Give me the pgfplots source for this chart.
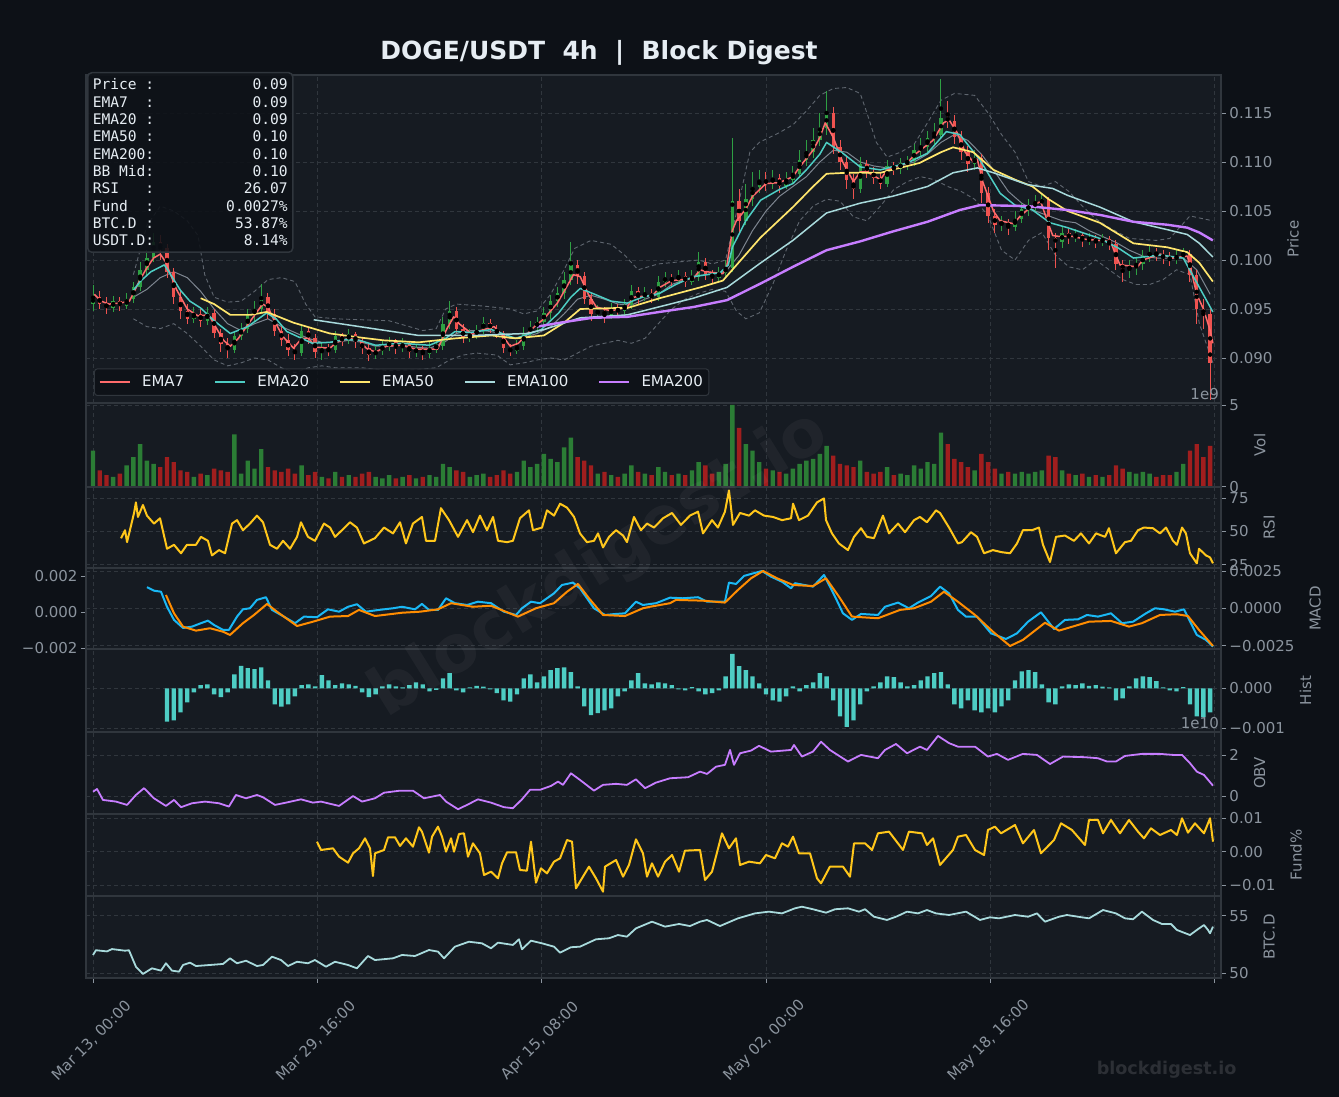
\documentclass[border=0pt]{standalone}
\usepackage{pgfplots}
\pgfplotsset{compat=1.18}
\usepackage{pgfplotstable}
\usepackage{fontspec}
\setmainfont{DejaVu Sans}
\newfontfamily\monofont{DejaVu Sans Mono}
\definecolor{figbg}{HTML}{0D1117}
\definecolor{panelbg}{HTML}{161B22}
\definecolor{gridc}{HTML}{30363D}
\definecolor{tickc}{HTML}{8B949E}
\definecolor{titlec}{HTML}{E6EDF3}
\definecolor{upc}{HTML}{2EA043}
\definecolor{dnc}{HTML}{EF5350}
\definecolor{volup}{HTML}{2B7D35}
\definecolor{voldn}{HTML}{A01E1E}
\definecolor{emaA}{HTML}{FF6B6B}
\definecolor{emaB}{HTML}{4ECDC4}
\definecolor{emaC}{HTML}{FFE66D}
\definecolor{emaD}{HTML}{A8DADC}
\definecolor{emaE}{HTML}{C77DFF}
\definecolor{bbc}{HTML}{5F666F}
\definecolor{bbmid}{HTML}{7D8590}
\definecolor{rsic}{HTML}{FFC61A}
\definecolor{macdc}{HTML}{1AB8F5}
\definecolor{sigc}{HTML}{FF8C00}
\definecolor{histc}{HTML}{4ECDC4}
\definecolor{obvc}{HTML}{C77DFF}
\definecolor{fundc}{HTML}{FFC61A}
\definecolor{btcc}{HTML}{A8DADC}
\newcommand\tk{\fontsize{15}{18}\selectfont}
\pgfplotsset{
  panel/.style={
    scale only axis, width=1135pt,
    xmin=-0.52, xmax=83.8,
    axis background/.style={fill=panelbg},
    axis line style={draw=gridc, line width=1.2pt},
    xmajorgrids, ymajorgrids,
    major grid style={draw=gridc, line width=0.7pt, dash pattern=on 4pt off 3pt},
    xtick={0,16.6667,33.3333,50,66.6667,83.3333},
    xticklabels={},
    x tick style={draw=none},
    ytick pos=right, yticklabel pos=right,
    y tick style={draw=tickc, line width=0.8pt},
    tick align=outside, major tick length=5pt,
    ticklabel style={font=\tk, text=tickc},
    ylabel style={font=\tk, text=tickc},
    ylabel shift=8pt,
    scaled ticks=false,
  },
}
\pgfplotstableread{
x o h l c v
0.0 0.0955 0.0975 0.0948 0.0962 2.2
0.5 0.0962 0.0968 0.0950 0.0955 1.0
1.0 0.0955 0.0962 0.0945 0.0951 0.7
1.5 0.0951 0.0963 0.0947 0.0958 0.6
2.0 0.0958 0.0962 0.0948 0.0953 0.8
2.5 0.0953 0.0966 0.0950 0.0960 1.3
3.0 0.0960 0.0978 0.0956 0.0972 1.8
3.5 0.0972 0.0998 0.0968 0.0990 2.6
4.0 0.0990 0.1010 0.0985 0.1002 1.6
4.5 0.1002 0.1028 0.0998 0.1018 1.4
5.0 0.1018 0.1025 0.1000 0.1012 1.2
5.5 0.1012 0.1016 0.0982 0.0988 1.8
6.0 0.0988 0.0992 0.0955 0.0962 1.5
6.5 0.0962 0.0968 0.0940 0.0948 1.0
7.0 0.0948 0.0955 0.0935 0.0940 0.9
7.5 0.0940 0.0952 0.0936 0.0945 0.6
8.0 0.0945 0.0950 0.0932 0.0938 0.8
8.5 0.0938 0.0952 0.0934 0.0946 0.7
9.0 0.0946 0.0950 0.0920 0.0925 1.1
9.5 0.0925 0.0930 0.0906 0.0914 1.0
10.0 0.0914 0.0920 0.0900 0.0908 0.9
10.5 0.0908 0.0928 0.0905 0.0922 3.2
11.0 0.0922 0.0936 0.0918 0.0930 0.8
11.5 0.0930 0.0950 0.0926 0.0944 1.6
12.0 0.0944 0.0958 0.0938 0.0950 1.1
12.5 0.0950 0.0976 0.0946 0.0962 2.3
13.0 0.0962 0.0966 0.0940 0.0945 1.2
13.5 0.0945 0.0950 0.0922 0.0928 1.0
14.0 0.0928 0.0934 0.0912 0.0918 0.9
14.5 0.0918 0.0924 0.0902 0.0908 1.1
15.0 0.0908 0.0914 0.0898 0.0905 0.8
15.5 0.0905 0.0934 0.0902 0.0928 1.3
16.0 0.0928 0.0932 0.0914 0.0920 0.7
16.5 0.0920 0.0924 0.0900 0.0906 0.9
17.0 0.0906 0.0916 0.0898 0.0910 0.6
17.5 0.0910 0.0914 0.0902 0.0908 0.5
18.0 0.0908 0.0928 0.0905 0.0922 0.9
18.5 0.0922 0.0926 0.0912 0.0918 0.6
19.0 0.0918 0.0930 0.0914 0.0924 0.7
19.5 0.0924 0.0927 0.0910 0.0916 0.6
20.0 0.0916 0.0920 0.0904 0.0910 0.8
20.5 0.0910 0.0914 0.0897 0.0903 0.9
21.0 0.0903 0.0912 0.0899 0.0907 0.6
21.5 0.0907 0.0918 0.0903 0.0912 0.5
22.0 0.0912 0.0921 0.0907 0.0916 0.7
22.5 0.0916 0.0919 0.0904 0.0910 0.5
23.0 0.0910 0.0920 0.0906 0.0914 0.6
23.5 0.0914 0.0917 0.0900 0.0906 0.7
24.0 0.0906 0.0914 0.0901 0.0909 0.5
24.5 0.0909 0.0912 0.0898 0.0904 0.6
25.0 0.0904 0.0916 0.0900 0.0910 0.7
25.5 0.0910 0.0918 0.0905 0.0912 0.6
26.0 0.0912 0.0942 0.0908 0.0935 1.4
26.5 0.0935 0.0958 0.0930 0.0948 1.2
27.0 0.0948 0.0952 0.0925 0.0930 1.0
27.5 0.0930 0.0935 0.0915 0.0920 0.9
28.0 0.0920 0.0930 0.0916 0.0924 0.6
28.5 0.0924 0.0934 0.0919 0.0928 0.7
29.0 0.0928 0.0942 0.0924 0.0936 0.8
29.5 0.0936 0.0940 0.0925 0.0930 0.6
30.0 0.0930 0.0934 0.0920 0.0925 0.7
30.5 0.0925 0.0928 0.0905 0.0910 1.0
31.0 0.0910 0.0914 0.0902 0.0907 0.8
31.5 0.0907 0.0918 0.0904 0.0912 0.9
32.0 0.0912 0.0932 0.0908 0.0926 1.6
32.5 0.0926 0.0938 0.0921 0.0932 1.2
33.0 0.0932 0.0942 0.0926 0.0937 1.4
33.5 0.0937 0.0952 0.0932 0.0946 2.0
34.0 0.0946 0.0964 0.0940 0.0958 1.7
34.5 0.0958 0.0972 0.0952 0.0966 1.5
35.0 0.0966 0.0988 0.0960 0.0980 2.4
35.5 0.0980 0.1018 0.0975 0.0995 3.0
36.0 0.0995 0.1000 0.0976 0.0984 1.8
36.5 0.0984 0.0988 0.0955 0.0960 1.6
37.0 0.0960 0.0966 0.0938 0.0945 1.3
37.5 0.0945 0.0954 0.0940 0.0948 0.8
38.0 0.0948 0.0952 0.0936 0.0944 0.9
38.5 0.0944 0.0956 0.0940 0.0950 0.7
39.0 0.0950 0.0955 0.0942 0.0948 0.6
39.5 0.0948 0.0960 0.0944 0.0954 0.8
40.0 0.0954 0.0974 0.0950 0.0968 1.3
40.5 0.0968 0.0972 0.0955 0.0962 0.9
41.0 0.0962 0.0972 0.0958 0.0966 0.8
41.5 0.0966 0.0970 0.0956 0.0962 0.7
42.0 0.0962 0.0984 0.0958 0.0978 1.2
42.5 0.0978 0.0988 0.0972 0.0982 0.9
43.0 0.0982 0.0986 0.0973 0.0979 0.7
43.5 0.0979 0.0990 0.0975 0.0984 0.8
44.0 0.0984 0.0988 0.0972 0.0978 0.7
44.5 0.0978 0.0990 0.0974 0.0983 1.0
45.0 0.0983 0.1008 0.0979 0.0998 1.5
45.5 0.0998 0.1002 0.0980 0.0986 1.3
46.0 0.0986 0.0990 0.0976 0.0982 0.8
46.5 0.0982 0.0993 0.0978 0.0987 0.9
47.0 0.0987 0.1000 0.0982 0.0992 1.4
47.5 0.0992 0.1125 0.0988 0.1060 5.0
48.0 0.1060 0.1072 0.1028 0.1040 3.6
48.5 0.1040 0.1078 0.1036 0.1062 2.6
49.0 0.1062 0.1090 0.1055 0.1075 2.2
49.5 0.1075 0.1092 0.1068 0.1082 1.5
50.0 0.1082 0.1090 0.1070 0.1078 1.1
50.5 0.1078 0.1092 0.1072 0.1084 1.0
51.0 0.1084 0.1088 0.1068 0.1076 0.9
51.5 0.1076 0.1090 0.1072 0.1082 0.8
52.0 0.1082 0.1096 0.1078 0.1088 1.1
52.5 0.1088 0.1112 0.1084 0.1102 1.4
53.0 0.1102 0.1122 0.1096 0.1110 1.6
53.5 0.1110 0.1135 0.1104 0.1122 1.7
54.0 0.1122 0.1150 0.1116 0.1135 2.0
54.5 0.1135 0.1172 0.1128 0.1150 2.5
55.0 0.1150 0.1156 0.1108 0.1115 1.9
55.5 0.1115 0.1122 0.1092 0.1100 1.4
56.0 0.1100 0.1106 0.1072 0.1082 1.3
56.5 0.1082 0.1088 0.1062 0.1072 1.2
57.0 0.1072 0.1105 0.1068 0.1098 1.6
57.5 0.1098 0.1102 0.1084 0.1090 0.9
58.0 0.1090 0.1095 0.1078 0.1084 0.8
58.5 0.1084 0.1090 0.1072 0.1078 0.9
59.0 0.1078 0.1102 0.1075 0.1096 1.2
59.5 0.1096 0.1100 0.1087 0.1093 0.7
60.0 0.1093 0.1104 0.1088 0.1099 0.8
60.5 0.1099 0.1106 0.1092 0.1101 0.7
61.0 0.1101 0.1118 0.1096 0.1112 1.3
61.5 0.1112 0.1124 0.1106 0.1115 1.1
62.0 0.1115 0.1132 0.1110 0.1124 1.5
62.5 0.1124 0.1140 0.1118 0.1128 1.4
63.0 0.1128 0.1185 0.1124 0.1145 3.3
63.5 0.1145 0.1162 0.1135 0.1142 2.6
64.0 0.1142 0.1148 0.1118 0.1126 1.7
64.5 0.1126 0.1132 0.1102 0.1110 1.5
65.0 0.1110 0.1116 0.1090 0.1098 1.2
65.5 0.1098 0.1112 0.1092 0.1104 1.0
66.0 0.1104 0.1108 0.1058 0.1068 2.0
66.5 0.1068 0.1074 0.1038 0.1045 1.5
67.0 0.1045 0.1052 0.1028 0.1036 1.1
67.5 0.1036 0.1045 0.1030 0.1038 0.8
68.0 0.1038 0.1042 0.1026 0.1034 0.9
68.5 0.1034 0.1050 0.1030 0.1042 0.8
69.0 0.1042 0.1058 0.1038 0.1052 0.9
69.5 0.1052 0.1062 0.1045 0.1055 0.8
70.0 0.1055 0.1066 0.1050 0.1058 0.9
70.5 0.1058 0.1068 0.1052 0.1062 1.0
71.0 0.1062 0.1064 0.1010 0.1022 1.9
71.5 0.1022 0.1028 0.0992 0.1018 1.8
72.0 0.1018 0.1034 0.1012 0.1028 1.0
72.5 0.1028 0.1032 0.1016 0.1022 0.8
73.0 0.1022 0.1032 0.1018 0.1026 0.7
73.5 0.1026 0.1029 0.1013 0.1019 0.8
74.0 0.1019 0.1028 0.1015 0.1022 0.6
74.5 0.1022 0.1026 0.1012 0.1018 0.7
75.0 0.1018 0.1027 0.1014 0.1021 0.6
75.5 0.1021 0.1024 0.1010 0.1016 0.7
76.0 0.1016 0.1020 0.0990 0.0996 1.3
76.5 0.0996 0.1000 0.0978 0.0990 1.1
77.0 0.0990 0.1000 0.0982 0.0994 0.9
77.5 0.0994 0.1002 0.0985 0.0996 0.8
78.0 0.0996 0.1010 0.0990 0.1004 0.9
78.5 0.1004 0.1014 0.0998 0.1008 0.8
79.0 0.1008 0.1012 0.0999 0.1005 0.6
79.5 0.1005 0.1010 0.0996 0.1003 0.7
80.0 0.1003 0.1008 0.0994 0.1000 0.7
80.5 0.1000 0.1010 0.0996 0.1004 0.9
81.0 0.1004 0.1012 0.1000 0.1006 1.4
81.5 0.1006 0.1010 0.0978 0.0985 2.2
82.0 0.0985 0.0990 0.0935 0.0950 2.6
82.5 0.0950 0.0960 0.0930 0.0945 1.8
83.0 0.0945 0.0950 0.0857 0.0895 2.5
}\candles
\pgfplotstableread{
x h
5.5 -0.00083
6.0 -0.00080
6.5 -0.00060
7.0 -0.00035
7.5 -0.00010
8.0 0.00008
8.5 0.00010
9.0 -0.00015
9.5 -0.00022
10.0 -0.00010
10.5 0.00035
11.0 0.00056
11.5 0.00050
12.0 0.00048
12.5 0.00052
13.0 0.00020
13.5 -0.00040
14.0 -0.00046
14.5 -0.00040
15.0 -0.00020
15.5 0.00008
16.0 0.00010
16.5 0.00005
17.0 0.00033
17.5 0.00020
18.0 0.00008
18.5 0.00012
19.0 0.00010
19.5 0.00006
20.0 -0.00010
20.5 -0.00022
21.0 -0.00015
21.5 0.00005
22.0 0.00010
22.5 0.00005
23.0 0.00002
23.5 0.00008
24.0 0.00015
24.5 0.00010
25.0 -0.00008
25.5 -0.00004
26.0 0.00025
26.5 0.00038
27.0 -0.00005
27.5 -0.00010
28.0 0.00002
28.5 0.00006
29.0 0.00004
29.5 -0.00003
30.0 -0.00012
30.5 -0.00030
31.0 -0.00033
31.5 -0.00015
32.0 0.00025
32.5 0.00035
33.0 0.00015
33.5 0.00030
34.0 0.00045
34.5 0.00050
35.0 0.00052
35.5 0.00040
36.0 0.00005
36.5 -0.00045
37.0 -0.00067
37.5 -0.00062
38.0 -0.00055
38.5 -0.00050
39.0 -0.00020
39.5 -0.00008
40.0 0.00020
40.5 0.00038
41.0 0.00012
41.5 0.00010
42.0 0.00015
42.5 0.00012
43.0 0.00008
43.5 -0.00003
44.0 -0.00005
44.5 0.00003
45.0 -0.00008
45.5 -0.00015
46.0 -0.00012
46.5 -0.00005
47.0 0.00030
47.5 0.00086
48.0 0.00055
48.5 0.00045
49.0 0.00030
49.5 0.00012
50.0 -0.00015
50.5 -0.00030
51.0 -0.00033
51.5 -0.00020
52.0 0.00005
52.5 -0.00008
53.0 0.00008
53.5 0.00015
54.0 0.00038
54.5 0.00030
55.0 -0.00030
55.5 -0.00070
56.0 -0.00096
56.5 -0.00080
57.0 -0.00040
57.5 -0.00008
58.0 0.00005
58.5 0.00015
59.0 0.00030
59.5 0.00028
60.0 0.00015
60.5 0.00005
61.0 0.00008
61.5 0.00020
62.0 0.00030
62.5 0.00038
63.0 0.00040
63.5 0.00010
64.0 -0.00040
64.5 -0.00050
65.0 -0.00030
65.5 -0.00055
66.0 -0.00060
66.5 -0.00050
67.0 -0.00060
67.5 -0.00045
68.0 -0.00030
68.5 0.00020
69.0 0.00042
69.5 0.00045
70.0 0.00040
70.5 0.00010
71.0 -0.00035
71.5 -0.00040
72.0 0.00005
72.5 0.00010
73.0 0.00008
73.5 0.00012
74.0 0.00006
74.5 0.00008
75.0 0.00004
75.5 0.00002
76.0 -0.00030
76.5 -0.00025
77.0 0.00005
77.5 0.00025
78.0 0.00030
78.5 0.00028
79.0 0.00018
79.5 0.00002
80.0 -0.00005
80.5 -0.00008
81.0 0.00003
81.5 -0.00040
82.0 -0.00070
82.5 -0.00072
83.0 -0.00060
}\histtab
\begin{document}
\begin{tikzpicture}
\fill[figbg] (0,0) rectangle (1339pt,1097pt);
\useasboundingbox (0,0) rectangle (1339pt,1097pt);

% ---------------- PRICE ----------------
\begin{axis}[panel, at={(86pt,1022pt)}, anchor=north west, height=328pt,
  ymin=0.085408, ymax=0.11888,
  ytick={0.090,0.095,0.100,0.105,0.110,0.115},
  yticklabels={0.090,0.095,0.100,0.105,0.110,0.115},
  ylabel={Price},
  legend style={at={(0.007,0.0213)}, anchor=south west, fill=figbg, fill opacity=0.85, draw opacity=1, text opacity=1,
    draw=gridc, line width=1pt, rounded corners=3pt, text=titlec, font=\fontsize{15}{17}\selectfont,
    inner xsep=4pt, inner ysep=5pt},
  legend columns=5,
  legend cell align=left,
  legend image code/.code={\draw[#1, line width=2.6pt] (0pt,0pt) -- (30pt,0pt);},
  /tikz/every odd column/.append style={column sep=9pt},
  /tikz/every even column/.append style={column sep=27.5pt},
]
\addplot[forget plot, bbc, line width=0.9pt, dash pattern=on 4pt off 3pt] coordinates {
(3,0.0985)(3.5,0.1010)(4,0.1035)(5,0.1055)(6,0.1050)(7,0.1040)(7.8,0.1025)(8.3,0.0985)(9,0.0962)(10,0.0957)(11,0.0958)(12,0.0968)(13,0.0980)(14,0.0982)(15,0.0978)(15.8,0.0955)(16.5,0.0942)(18,0.0940)(20,0.0939)(22,0.0938)(23.5,0.0932)(24.5,0.0928)(25.5,0.0930)(26.2,0.0950)(27,0.0955)(29,0.0953)(31,0.0950)(32,0.0945)(33,0.0948)(34,0.0965)(35,0.0990)(35.8,0.1012)(37,0.1020)(38.5,0.1016)(39.5,0.1005)(40.5,0.0990)(42,0.0996)(43.5,0.0998)(45,0.1000)(46,0.0996)(47,0.1000)(48,0.1060)(48.8,0.1110)(49.5,0.1120)(51,0.1130)(52,0.1138)(53,0.1152)(54,0.1168)(55,0.1175)(56,0.1176)(57,0.1170)(57.5,0.1150)(58.2,0.1120)(59,0.1105)(60,0.1110)(61,0.1118)(62,0.1140)(63,0.1163)(64,0.1170)(65.5,0.1168)(66.5,0.1150)(67.5,0.1128)(68.5,0.1110)(69.5,0.1080)(70.5,0.1075)(71.5,0.1080)(72.5,0.1070)(73.5,0.1055)(74.5,0.1042)(75.5,0.1033)(77,0.1022)(79,0.1020)(80,0.1022)(81.5,0.1045)(82.5,0.1042)(83.2,0.1040)};
\addplot[forget plot, bbc, line width=0.9pt, dash pattern=on 4pt off 3pt] coordinates {
(3,0.0940)(4,0.0932)(5,0.0930)(6,0.0935)(7,0.0925)(8,0.0912)(9,0.0898)(10,0.0892)(11,0.0895)(12,0.0900)(13,0.0898)(14,0.0890)(15,0.0885)(16,0.0890)(17,0.0892)(18,0.0890)(20,0.0890)(22,0.0887)(24,0.0888)(25.5,0.0890)(26.5,0.0898)(27.5,0.0903)(28.5,0.0905)(30,0.0903)(31,0.0893)(32,0.0895)(33,0.0898)(34,0.0900)(35,0.0898)(36,0.0905)(37,0.0912)(38,0.0915)(39,0.0918)(40,0.0915)(41,0.0920)(42,0.0935)(43,0.0950)(44,0.0960)(45,0.0966)(46,0.0970)(47,0.0968)(47.8,0.0948)(48.5,0.0940)(49.5,0.0946)(50.5,0.0975)(51.5,0.1010)(52.5,0.1040)(53.5,0.1055)(54.5,0.1062)(55.5,0.1060)(56.5,0.1044)(57.5,0.1040)(58.5,0.1055)(59.5,0.1072)(60.5,0.1080)(61.5,0.1085)(62.5,0.1082)(63.5,0.1075)(64.5,0.1070)(65.5,0.1062)(66.5,0.1045)(67.5,0.1010)(68.5,0.1000)(69.5,0.1020)(70.5,0.1028)(71.5,0.1005)(72.5,0.0993)(73.5,0.0990)(74.5,0.1000)(75.5,0.0990)(76.5,0.0980)(77.5,0.0975)(78.5,0.0975)(79.5,0.0980)(80.5,0.0990)(81.5,0.0985)(82.2,0.0935)(83.2,0.0895)};
\addplot[forget plot, bbmid, line width=1pt] coordinates {
(3,0.0962)(4,0.0970)(5,0.0982)(6,0.0988)(7,0.0982)(8,0.0968)(9,0.0950)(10,0.0935)(11,0.0928)(12,0.0935)(13,0.0940)(14,0.0932)(15,0.0926)(16,0.0920)(17,0.0916)(18,0.0916)(19,0.0918)(20,0.0916)(21,0.0912)(22,0.0912)(23,0.0913)(24,0.0911)(25,0.0910)(26,0.0915)(27,0.0925)(28,0.0928)(29,0.0928)(30,0.0926)(31,0.0920)(32,0.0921)(33,0.0925)(34,0.0932)(35,0.0945)(36,0.0960)(37,0.0964)(38,0.0960)(39,0.0955)(40,0.0954)(41,0.0960)(42,0.0965)(43,0.0975)(44,0.0980)(45,0.0984)(46,0.0986)(47,0.0988)(48,0.1005)(49,0.1030)(50,0.1050)(51,0.1065)(52,0.1075)(53,0.1085)(54,0.1100)(55,0.1112)(56,0.1110)(57,0.1100)(58,0.1096)(59,0.1094)(60,0.1096)(61,0.1100)(62,0.1108)(63,0.1120)(64,0.1128)(65,0.1122)(66,0.1108)(67,0.1090)(68,0.1070)(69,0.1058)(70,0.1050)(71,0.1045)(72,0.1040)(73,0.1038)(74,0.1030)(75,0.1024)(76,0.1018)(77,0.1010)(78,0.1004)(79,0.1002)(80,0.1002)(81,0.1002)(82,0.0990)(83,0.0965)};
% candles: wicks and bodies
\addplot[forget plot, only marks, mark=none,
  restrict expr to domain={(\thisrow{c}-\thisrow{o})*10000}{0:1000},
  error bars/.cd, y dir=both, y explicit, error mark=none,
  error bar style={draw=upc, line width=1pt}]
  table[x=x, y expr={(\thisrow{h}+\thisrow{l})/2}, y error expr={(\thisrow{h}-\thisrow{l})/2}] {\candles};
\addplot[forget plot, only marks, mark=none,
  restrict expr to domain={(\thisrow{o}-\thisrow{c})*10000}{0.001:1000},
  error bars/.cd, y dir=both, y explicit, error mark=none,
  error bar style={draw=dnc, line width=1pt}]
  table[x=x, y expr={(\thisrow{h}+\thisrow{l})/2}, y error expr={(\thisrow{h}-\thisrow{l})/2}] {\candles};
\addplot[forget plot, only marks, mark=none,
  restrict expr to domain={(\thisrow{c}-\thisrow{o})*10000}{0:1000},
  error bars/.cd, y dir=both, y explicit, error mark=none,
  error bar style={draw=upc, line width=3.4pt}]
  table[x=x, y expr={(\thisrow{o}+\thisrow{c})/2}, y error expr={abs(\thisrow{c}-\thisrow{o})/2}] {\candles};
\addplot[forget plot, only marks, mark=none,
  restrict expr to domain={(\thisrow{o}-\thisrow{c})*10000}{0.001:1000},
  error bars/.cd, y dir=both, y explicit, error mark=none,
  error bar style={draw=dnc, line width=3.4pt}]
  table[x=x, y expr={(\thisrow{o}+\thisrow{c})/2}, y error expr={abs(\thisrow{c}-\thisrow{o})/2}] {\candles};
% EMAs
\addplot[emaA, line width=1.5pt, line join=round] coordinates {
(0.1,0.0965)(0.6,0.0958)(1.2,0.0955)(2.0,0.0956)(2.7,0.0958)(3.0,0.0966)(3.5,0.0980)(4.0,0.0992)(4.5,0.1002)(5.0,0.1006)(5.4,0.0998)(6.2,0.0970)(7.0,0.0950)(7.8,0.0943)(8.6,0.0944)(9.1,0.0932)(9.7,0.0918)(10.2,0.0912)(10.8,0.0920)(11.5,0.0934)(12.6,0.0955)(13.0,0.0952)(13.4,0.0940)(14.1,0.0922)(14.9,0.0910)(15.5,0.0920)(16.0,0.0920)(16.6,0.0911)(17.6,0.0910)(18.1,0.0916)(19.0,0.0920)(19.8,0.0918)(20.3,0.0910)(21.0,0.0906)(21.8,0.0912)(22.9,0.0913)(24.0,0.0909)(25.6,0.0909)(26.3,0.0930)(26.8,0.0942)(27.2,0.0935)(28.2,0.0924)(28.8,0.0928)(29.8,0.0932)(30.3,0.0925)(31.0,0.0912)(31.6,0.0915)(32.8,0.0932)(33.5,0.0940)(34.5,0.0956)(35.0,0.0968)(35.7,0.0985)(36.2,0.0983)(36.8,0.0965)(37.4,0.0952)(38.5,0.0948)(39.7,0.0952)(40.1,0.0962)(41.6,0.0964)(42.1,0.0972)(43.0,0.0979)(44.6,0.0981)(45.1,0.0990)(45.6,0.0988)(46.8,0.0986)(47.1,0.0995)(47.5,0.1030)(47.8,0.1040)(48.5,0.1052)(49.0,0.1065)(50.0,0.1078)(51.0,0.1079)(52.0,0.1085)(52.5,0.1095)(53.5,0.1112)(54.0,0.1125)(54.4,0.1140)(55.0,0.1125)(55.7,0.1100)(56.5,0.1080)(57.0,0.1090)(57.5,0.1090)(58.5,0.1082)(59.0,0.1092)(60.5,0.1099)(61.0,0.1107)(62.4,0.1122)(63.2,0.1140)(63.6,0.1143)(64.2,0.1130)(64.8,0.1110)(65.4,0.1100)(65.7,0.1103)(66.1,0.1080)(66.9,0.1050)(67.4,0.1040)(68.4,0.1037)(68.9,0.1045)(69.5,0.1052)(70.4,0.1060)(70.9,0.1040)(71.3,0.1025)(71.8,0.1024)(72.8,0.1024)(73.8,0.1021)(75.6,0.1019)(75.9,0.1008)(76.3,0.0995)(77.6,0.0993)(78.0,0.1000)(79.3,0.1006)(80.2,0.1002)(81.3,0.1004)(81.5,0.0995)(82.0,0.0965)(82.5,0.0950)(83.0,0.0928)(83.2,0.0915)};
\addlegendentry{EMA7}
\addplot[emaB, line width=1.5pt, line join=round] coordinates {
(3.0,0.0969)(3.5,0.0978)(4.3,0.0988)(5.3,0.0995)(6.0,0.0980)(6.5,0.0969)(7.2,0.0958)(8.0,0.0951)(9,0.0938)(10.2,0.0925)(11.5,0.0932)(12.9,0.0946)(13.6,0.0940)(14.4,0.0927)(15.5,0.0920)(16.3,0.0915)(17.6,0.0916)(18.8,0.0919)(19.8,0.0918)(21.0,0.0913)(22.9,0.0915)(25,0.0913)(26.2,0.0920)(26.9,0.0927)(28,0.0926)(29.6,0.0929)(31.4,0.0920)(32.5,0.0925)(33.3,0.0929)(34.6,0.0946)(35.5,0.0962)(36.2,0.0971)(37.1,0.0966)(38.5,0.0958)(39.7,0.0956)(40.8,0.0962)(42.1,0.0966)(43.3,0.0975)(44.6,0.0983)(46.6,0.0987)(47.2,0.0995)(47.5,0.1013)(48.5,0.1040)(49.6,0.1061)(51,0.1072)(52,0.1078)(53,0.1092)(54,0.1108)(54.5,0.1120)(55.7,0.1109)(57,0.1095)(58.5,0.1092)(60.5,0.1099)(62,0.1109)(63.4,0.1131)(64.4,0.1128)(65.9,0.1102)(67.4,0.1068)(68.5,0.1056)(69.8,0.1051)(71.1,0.1038)(72.4,0.1033)(74.8,0.1022)(76.2,0.1012)(77.3,0.1002)(79.3,0.1005)(81,0.1002)(82.2,0.0972)(83.2,0.0947)};
\addlegendentry{EMA20}
\addplot[emaC, line width=1.7pt, line join=round] coordinates {
(8.0,0.0961)(9,0.0955)(10.2,0.0944)(11.7,0.0944)(12.9,0.0947)(14.9,0.0936)(17.6,0.0925)(19.8,0.0921)(21.6,0.0918)(24.2,0.0916)(26.9,0.0920)(29.6,0.0923)(31.4,0.0920)(33.5,0.0923)(35,0.0936)(36.2,0.0950)(38.9,0.0951)(39.7,0.0951)(42.1,0.0961)(45.1,0.0972)(46.8,0.0979)(47.5,0.0990)(49.6,0.1023)(52,0.1054)(53.5,0.1075)(54.5,0.1088)(56,0.1089)(58.5,0.1089)(61.4,0.1099)(63.0,0.1110)(63.9,0.1115)(65.4,0.1110)(66.9,0.1092)(68.5,0.1082)(69.8,0.1075)(71.0,0.1062)(72.4,0.1050)(74.8,0.1038)(77.3,0.1017)(79.8,0.1013)(81.3,0.1008)(82.2,0.0997)(83.2,0.0978)};
\addlegendentry{EMA50}
\addplot[emaD, line width=1.5pt, line join=round] coordinates {
(16.4,0.0939)(20.3,0.0931)(24.2,0.0923)(28.2,0.0923)(32.2,0.0925)(33.5,0.0929)(36.2,0.0941)(39.7,0.0944)(44.6,0.0961)(47.1,0.0972)(49.6,0.0997)(52,0.1020)(54.5,0.1048)(57,0.1058)(59.4,0.1065)(62,0.1075)(63.9,0.1089)(65.7,0.1094)(66.9,0.1089)(69.4,0.1077)(71.3,0.1073)(72.4,0.1066)(74.8,0.1054)(77.3,0.1039)(79.8,0.1031)(81.3,0.1026)(82.2,0.1017)(83.2,0.1003)};
\addlegendentry{EMA100}
\addplot[emaE, line width=2.4pt, line join=round] coordinates {
(33.0,0.0932)(34.7,0.0936)(37.1,0.0941)(39.7,0.0942)(42.1,0.0947)(44.6,0.0952)(47.1,0.0959)(49.6,0.0976)(52,0.0993)(54.5,0.1010)(57,0.1019)(59.4,0.1029)(62,0.1039)(64.4,0.1051)(65.9,0.1056)(69.4,0.1055)(72.4,0.1051)(74.8,0.1046)(77.3,0.1039)(79.8,0.1036)(81.3,0.1033)(82.2,0.1028)(83.2,0.1020)};
\addlegendentry{EMA200}
\end{axis}

% ---------------- VOL ----------------
\begin{axis}[panel, at={(86pt,694pt)}, anchor=north west, height=84pt,
  ymin=-0.02, ymax=5.12, ytick={0,5}, yticklabels={0,5}, ylabel={Vol}]
\addplot[ybar, bar width=4.4pt, bar shift=0pt, fill=volup, draw=none,
  restrict expr to domain={(\thisrow{c}-\thisrow{o})*10000}{0:1000}] table[x=x, y=v] {\candles};
\addplot[ybar, bar width=4.4pt, bar shift=0pt, fill=voldn, draw=none,
  restrict expr to domain={(\thisrow{o}-\thisrow{c})*10000}{0.001:1000}] table[x=x, y=v] {\candles};
\end{axis}

% ---------------- RSI ----------------
\begin{axis}[panel, at={(86pt,610pt)}, anchor=north west, height=81pt,
  ymin=22.5, ymax=83.6, ytick={25,50,75}, yticklabels={25,50,75}, ylabel={RSI}]
\addplot[rsic, line width=2pt, line join=round] coordinates {
(2.08,44.9)(2.38,51)(2.53,42)(3.05,64)(3.19,72)(3.34,61)(3.71,70)(4.01,62)(4.53,56)(4.98,60)(5.50,37)(6.02,40)(6.54,33.6)(6.98,40)(7.65,40)(8.02,46)(8.54,43)(8.84,32)(9.36,36)(9.81,33.6)(10.33,56)(10.70,58.6)(11.14,51)(11.66,56)(12.18,62)(12.63,57)(13.15,40)(13.67,37)(14.12,43)(14.64,37)(15.16,46)(15.45,57)(15.97,46)(16.49,43)(17.16,56)(17.61,53)(17.98,46)(18.50,51)(19.09,57)(19.61,53)(20.13,41)(20.95,45)(21.62,53)(22.29,48.6)(22.81,57)(23.25,41)(23.77,56)(24.44,61)(24.74,43)(25.41,43)(25.85,67.6)(26.45,58.6)(27.12,46)(27.79,58.6)(28.23,49.5)(28.75,62)(29.27,51)(29.72,61)(30.09,43)(30.76,42)(31.20,43)(31.72,60)(32.39,66)(32.69,51)(33.36,53)(33.73,66)(34.25,62)(34.70,71)(35.22,68)(35.74,61)(36.18,48.6)(36.70,42)(37.22,43)(37.52,48.6)(37.89,38)(38.34,46)(38.86,51)(39.38,47)(39.67,42)(40.19,61)(40.71,51)(41.16,56)(41.68,53)(42.35,60)(43.02,64)(43.68,55)(44.35,62)(44.95,65)(45.32,48.6)(45.99,58.6)(46.43,53)(46.95,65)(47.25,81)(47.55,55)(48.07,64)(48.74,62)(49.18,66)(49.85,62)(50.52,61)(51.19,58.6)(51.86,60)(52.01,71)(52.45,58.6)(53.12,62)(53.79,72)(54.31,75)(54.46,58.6)(54.90,48.6)(55.42,41)(56.09,36)(56.54,46)(57.06,52.5)(57.50,46)(58.02,45)(58.69,62)(59.14,48.6)(59.81,56)(60.33,49.5)(61.00,58.6)(61.44,61)(61.96,57)(62.63,66)(62.93,64)(63.60,53)(64.26,41)(64.56,42)(65.23,49.5)(65.68,46)(66.20,33.6)(66.86,36)(67.46,34.5)(68.13,33.6)(68.65,41)(69.09,51)(69.76,51)(70.28,53)(70.58,40)(71.10,27)(71.55,46)(72.21,47)(72.88,43)(73.40,48.6)(74.00,41)(74.52,48.6)(75.19,46)(75.48,52.5)(76.00,33.6)(76.67,42)(77.12,43)(77.64,51)(78.08,53)(78.75,52.5)(79.27,48.6)(79.72,53)(80.24,43)(80.53,40)(80.91,53)(81.20,48.6)(81.50,33.6)(82.01,26)(82.17,37)(82.69,32)(82.99,30.5)(83.21,26)};
\end{axis}

% ---------------- MACD (left twin scale) ----------------
\begin{axis}[scale only axis, width=1135pt, height=81pt, at={(86pt,529pt)}, anchor=north west,
  xmin=-0.52, xmax=83.8, ymin=-0.00204, ymax=0.00246,
  axis x line=none, axis y line*=left, axis line style={draw=none},
  ytick={-0.002,0,0.002}, yticklabels={−0.002,0.000,0.002},
  ytick pos=left, tick align=outside, major tick length=5pt,
  y tick style={draw=tickc, line width=0.8pt},
  ticklabel style={font=\tk, text=tickc}, scaled ticks=false]
\addplot[draw=none] coordinates {(0,0)};
\end{axis}
% ---------------- MACD ----------------
\begin{axis}[panel, at={(86pt,529pt)}, anchor=north west, height=81pt,
  ymin=-0.00273, ymax=0.0027, ytick={-0.0025,0,0.0025}, yticklabels={−0.0025,0.0000,0.0025}, ylabel={MACD}]
\addplot[macdc, line width=2pt, line join=round] coordinates {
(4.01,0.00141)(4.53,0.00118)(5.05,0.00111)(5.50,0.0001)(6.02,-0.00078)(6.69,-0.00132)(7.36,-0.00123)(8.02,-0.001)(8.54,-0.00083)(8.99,-0.00112)(9.66,-0.00145)(10.10,-0.00145)(10.70,-0.00056)(11.14,-0.00007)(11.66,0)(12.18,0.00056)(12.85,0.00074)(13.30,-0.00011)(13.97,-0.00045)(15.01,-0.001)(15.68,-0.00056)(16.64,-0.0006)(17.46,-0.00007)(18.28,-0.00023)(18.95,0.0001)(19.61,0.00027)(20.28,-0.00023)(21.25,-0.00011)(22.29,0)(22.96,0.0001)(23.92,-0.00007)(24.44,0.00029)(24.96,-0.00011)(25.63,-0.00011)(26.23,0.00067)(26.89,0.00034)(27.79,0.00022)(28.60,0.00044)(29.57,0.00034)(30.53,-0.00023)(31.43,-0.00045)(31.87,0)(32.54,0.00044)(33.21,0.00034)(34.25,0.001)(34.84,0.00156)(35.66,0.00172)(36.18,0.00134)(37.22,0)(38.04,-0.00045)(38.86,-0.00038)(39.52,-0.00034)(40.34,0.00044)(40.86,0.00022)(41.83,0.00034)(42.87,0.00071)(43.83,0.00067)(44.95,0.00074)(45.62,0.00044)(46.95,0.00044)(47.25,0.00172)(47.77,0.00163)(48.37,0.00217)(49.70,0.0025)(50.37,0.00212)(51.19,0.00178)(51.86,0.00134)(52.15,0.00168)(53.49,0.00145)(54.31,0.00223)(55.13,0.00078)(55.72,-0.00034)(56.39,-0.00078)(57.06,-0.00038)(58.32,-0.00045)(58.84,0.0001)(59.81,0.00038)(60.62,0)(61.29,0.00038)(62.26,0.00082)(62.93,0.00145)(63.60,0.001)(64.26,-0.00011)(64.86,-0.00056)(65.68,-0.00056)(66.72,-0.00168)(67.83,-0.00206)(68.65,-0.00168)(69.47,-0.0009)(70.43,-0.00027)(71.40,-0.00139)(72.21,-0.00078)(73.18,-0.00074)(73.85,-0.00045)(74.67,-0.00056)(75.63,-0.00034)(76.45,-0.001)(77.27,-0.0009)(78.23,-0.00034)(78.90,0)(79.57,-0.00007)(80.39,-0.00023)(81.05,-0.00007)(82.01,-0.00179)(82.69,-0.00212)(83.21,-0.00257)};
\addplot[sigc, line width=2pt, line join=round] coordinates {
(5.42,0.00089)(6.02,-0.00034)(6.69,-0.00123)(7.65,-0.0015)(8.69,-0.00134)(9.66,-0.00157)(10.18,-0.00179)(11.14,-0.001)(11.96,-0.00045)(12.93,0.00029)(13.67,-0.00023)(15.16,-0.00119)(16.34,-0.0009)(17.61,-0.00056)(18.95,-0.00052)(19.76,-0.00011)(20.95,-0.00052)(22.96,-0.0003)(24.29,-0.00023)(25.63,-0.00007)(26.60,0.00034)(28.23,0.0001)(29.57,0.00017)(31.57,-0.00056)(32.91,0)(34.25,0.00034)(35.22,0.00111)(36.03,0.00163)(36.85,0.00067)(37.89,-0.00045)(39.52,-0.00052)(40.86,0)(41.38,0.0001)(42.87,0.00034)(43.31,0.00056)(45.32,0.00051)(46.95,0.00038)(47.92,0.00123)(48.89,0.00201)(49.78,0.0025)(50.82,0.00201)(52.01,0.00156)(53.49,0.00149)(54.46,0.00201)(55.42,0.00078)(56.39,-0.00056)(58.32,-0.00067)(59.96,-0.00011)(61.00,0)(62.26,0.00044)(63.22,0.00111)(64.26,0.00044)(65.53,-0.00045)(66.86,-0.00157)(68.13,-0.00253)(69.09,-0.00212)(70.73,-0.00097)(71.77,-0.0015)(74.00,-0.0009)(75.63,-0.00085)(76.97,-0.00123)(77.93,-0.001)(79.27,-0.00045)(80.53,-0.0004)(81.35,-0.00052)(82.17,-0.00145)(83.21,-0.00253)};
\end{axis}

% ---------------- HIST ----------------
\begin{axis}[panel, at={(86pt,448pt)}, anchor=north west, height=83pt,
  ymin=-0.00109, ymax=0.00098, ytick={-0.001,0}, yticklabels={−0.001,0.000}, ylabel={Hist}]
\addplot[ybar, bar width=4.4pt, bar shift=0pt, fill=histc, draw=none] table[x=x, y=h] {\histtab};
\end{axis}

% ---------------- OBV ----------------
\begin{axis}[panel, at={(86pt,365pt)}, anchor=north west, height=82pt,
  ymin=-0.86, ymax=3.11, ytick={0,2}, yticklabels={0,2}, ylabel={OBV}]
\addplot[obvc, line width=1.8pt, line join=round] coordinates {
(0,0.22)(0.30,0.35)(0.74,-0.18)(1.71,-0.26)(2.53,-0.42)(3.19,0.06)(3.79,0.39)(4.53,-0.1)(5.42,-0.47)(6.02,-0.18)(6.54,-0.53)(7.36,-0.34)(8.32,-0.26)(9.36,-0.34)(10.10,-0.5)(10.62,0.06)(11.37,-0.1)(12.18,0.06)(12.63,-0.05)(13.52,-0.42)(14.34,-0.31)(15.45,-0.15)(16.34,-0.31)(16.94,-0.26)(18.28,-0.47)(19.32,0.01)(19.99,-0.26)(20.95,-0.1)(21.62,0.17)(22.81,0.27)(23.77,0.27)(24.59,-0.1)(25.78,0.06)(26.23,-0.26)(27.12,-0.63)(27.79,-0.42)(28.60,-0.15)(29.57,-0.31)(30.53,-0.53)(31.20,-0.58)(31.87,-0.15)(32.47,0.31)(33.21,0.31)(34.03,0.5)(34.55,0.71)(34.92,0.55)(35.51,1.11)(36.18,0.79)(37.22,0.27)(37.89,0.55)(38.86,0.6)(39.67,0.55)(40.34,0.82)(41.01,0.39)(41.83,0.66)(42.87,0.87)(44.21,0.92)(45.10,1.19)(45.62,1.08)(46.29,1.43)(46.95,1.52)(47.33,2.24)(47.62,1.52)(48.07,2.08)(48.89,2.21)(49.48,2.44)(50.37,2.16)(51.86,2.24)(52.08,2.48)(52.67,1.92)(53.49,2.16)(54.09,2.64)(54.75,2.24)(56.09,1.68)(57.06,2.0)(58.32,1.84)(58.84,2.24)(59.66,2.53)(60.48,2.08)(61.44,2.4)(61.96,2.24)(62.78,2.92)(63.60,2.57)(64.26,2.4)(65.53,2.4)(66.49,1.92)(67.16,2.05)(67.98,1.76)(69.09,2.05)(70.13,2.0)(71.10,1.56)(72.07,1.92)(73.70,1.89)(74.67,1.84)(75.33,1.68)(76.00,1.68)(76.67,1.95)(77.93,2.05)(79.27,2.05)(80.24,2.0)(80.91,2.0)(81.50,1.6)(82.01,1.19)(82.54,1.03)(83.21,0.51)};
\end{axis}

% ---------------- FUND ----------------
\begin{axis}[panel, at={(86pt,283pt)}, anchor=north west, height=82pt,
  ymin=-0.0133, ymax=0.0113, ytick={-0.01,0,0.01}, yticklabels={−0.01,0.00,0.01}, ylabel={Fund\%}]
\addplot[fundc, line width=2pt, line join=round] coordinates {
(16.64,0.003)(16.94,0.0005)(17.83,0.001)(18.28,-0.0015)(18.95,-0.0033)(19.32,-0.0005)(19.76,0.001)(20.21,0.004)(20.58,0.001)(20.80,-0.0073)(20.95,-0.0005)(21.62,0.0005)(21.92,0.0043)(22.44,0.0043)(22.81,0.0017)(23.25,0.004)(23.77,0.0015)(24.22,0.0073)(24.44,0.006)(24.96,-0.0003)(25.19,0.0045)(25.63,0.0075)(25.93,0.0045)(26.23,0)(26.60,0.004)(26.82,0)(27.19,0.0053)(27.56,0.0055)(27.86,-0.0015)(28.23,0.0025)(28.75,-0.0005)(29.05,-0.007)(29.57,-0.006)(30.09,-0.008)(30.39,-0.0035)(30.76,-0.0002)(31.43,-0.0002)(31.72,-0.0055)(32.24,-0.0057)(32.54,0.003)(32.91,-0.0093)(33.28,-0.005)(33.73,-0.0065)(34.25,-0.003)(34.70,-0.002)(35.22,0.0035)(35.59,0.003)(35.88,-0.011)(36.40,-0.0075)(36.85,-0.0045)(37.37,-0.008)(37.89,-0.012)(38.04,-0.0045)(38.86,-0.0025)(39.38,-0.0075)(39.82,-0.004)(40.34,0.0037)(40.86,-0.0005)(41.16,-0.0075)(41.53,-0.0035)(41.98,-0.0075)(42.50,-0.003)(43.02,-0.001)(43.54,-0.006)(43.98,0.0003)(45.10,0.0005)(45.47,-0.0085)(45.99,-0.006)(46.73,0.0055)(47.25,0.001)(47.77,0.004)(48.07,-0.004)(48.74,-0.003)(49.55,-0.0035)(50.00,-0.001)(50.67,-0.002)(51.19,0.0025)(51.63,0.0015)(52.01,0.0045)(52.45,-0.0005)(53.27,-0.0005)(53.79,-0.008)(54.09,-0.0095)(54.75,-0.0045)(55.72,-0.0045)(56.24,-0.0075)(56.54,0.0025)(57.36,0.0025)(57.88,0.0005)(58.32,0.0055)(59.14,0.006)(60.18,0.0005)(60.62,0.006)(61.59,0.0055)(61.96,0.002)(62.41,0.004)(62.93,-0.004)(63.89,0.0005)(64.26,0.0045)(64.86,0.005)(65.53,0.0005)(66.20,-0.001)(66.49,0.0065)(67.01,0.0075)(67.46,0.0055)(68.50,0.008)(69.09,0.0025)(69.91,0.0065)(70.43,-0.0005)(71.40,0.0035)(71.92,0.0085)(72.73,0.0065)(73.70,0.002)(74.00,0.0095)(74.67,0.0095)(75.04,0.0055)(75.63,0.0095)(76.30,0.0055)(76.97,0.0095)(77.64,0.006)(78.08,0.004)(78.60,0.007)(79.27,0.005)(80.09,0.0065)(80.53,0.005)(80.91,0.01)(81.35,0.0057)(81.87,0.0085)(82.54,0.0055)(82.99,0.01)(83.21,0.003)};
\end{axis}

% ---------------- BTC.D ----------------
\begin{axis}[panel, at={(86pt,201pt)}, anchor=north west, height=82pt,
  ymin=49.59, ymax=56.71, ytick={50,55}, yticklabels={50,55}, ylabel={BTC.D},
  xticklabels={{Mar 13, 00:00},{Mar 29, 16:00},{Apr 15, 08:00},{May 02, 00:00},{May 18, 16:00},{}},
  xtick pos=bottom, x tick style={draw=tickc, line width=0.8pt},
  xticklabel style={rotate=45, anchor=center, xshift=-42pt, yshift=-40pt}]
\addplot[btcc, line width=1.8pt, line join=round] coordinates {
(0,51.59)(0.22,52.0)(1.04,51.9)(1.41,52.1)(2.38,51.96)(2.67,52.0)(3.19,50.57)(3.71,49.94)(4.38,50.43)(5.05,50.23)(5.42,50.87)(5.87,50.23)(6.39,50.14)(6.69,50.72)(7.21,50.92)(7.65,50.63)(8.69,50.72)(9.66,50.81)(10.18,51.3)(10.70,50.87)(11.37,51.09)(12.18,50.63)(12.63,50.72)(13.30,51.44)(13.97,51.15)(14.49,50.63)(15.16,51.0)(15.97,50.87)(16.49,51.15)(17.31,50.57)(17.98,51.0)(18.95,50.72)(19.61,50.43)(20.43,51.5)(20.95,51.15)(22.29,51.3)(22.96,51.59)(23.92,51.5)(24.96,52.02)(25.63,51.88)(26.08,51.3)(26.89,52.31)(27.93,52.74)(28.90,52.6)(29.57,52.17)(30.09,52.66)(31.20,52.46)(31.65,52.95)(31.87,52.08)(32.54,52.83)(33.36,52.6)(34.25,52.31)(34.70,51.79)(35.51,52.26)(36.18,52.31)(37.37,52.95)(38.34,53.04)(39.00,53.32)(39.67,53.18)(40.34,53.9)(41.53,54.48)(42.50,54.05)(43.54,54.28)(44.35,54.1)(45.10,54.48)(45.62,54.63)(46.58,54.1)(47.92,54.77)(49.18,55.2)(50.22,55.35)(51.19,55.2)(52.15,55.64)(52.67,55.78)(53.49,55.56)(54.46,55.26)(55.13,55.56)(56.09,55.64)(56.91,55.35)(57.36,55.56)(58.02,54.91)(58.99,54.63)(59.66,54.91)(60.48,55.35)(61.29,55.2)(61.96,55.49)(62.63,55.2)(63.60,55.06)(64.86,55.35)(65.90,54.63)(66.64,54.86)(67.31,54.77)(68.50,55.06)(69.47,54.91)(70.13,55.2)(70.73,54.48)(71.77,54.91)(72.36,55.06)(73.18,54.91)(74.00,54.77)(75.04,55.49)(76.00,55.2)(76.67,54.77)(77.27,54.69)(77.93,55.35)(78.75,54.63)(79.42,54.28)(80.09,54.28)(80.53,53.76)(81.50,53.32)(82.01,53.76)(82.54,54.19)(82.84,53.76)(82.99,53.47)(83.21,54.05)};
\end{axis}

% ---------------- annotations ----------------
\node[anchor=south east, inner sep=1pt, font=\tk, text=tickc] at (1220pt,696pt) {1e9};
\node[anchor=south east, inner sep=1pt, font=\tk, text=tickc] at (1220pt,367pt) {1e10};
\node[anchor=base, font=\bfseries\fontsize{25}{30}\selectfont, text=titlec] at (599pt,1037pt) {DOGE/USDT\ \ 4h\ \ |\ \ Block Digest};
\node[anchor=north west, inner xsep=5pt, inner ysep=6pt, fill=figbg, fill opacity=0.88, text opacity=1,
  draw=gridc, line width=1.5pt, rounded corners=4pt, text=titlec,
  font=\monofont\fontsize{14.6}{17.35}\selectfont, align=left] at (87pt,1025pt) {%
\makebox[195pt][l]{Price\ :\hfill 0.09}\\
\makebox[195pt][l]{EMA7\ \ :\hfill 0.09}\\
\makebox[195pt][l]{EMA20\ :\hfill 0.09}\\
\makebox[195pt][l]{EMA50\ :\hfill 0.10}\\
\makebox[195pt][l]{EMA200:\hfill 0.10}\\
\makebox[195pt][l]{BB\ Mid:\hfill 0.10}\\
\makebox[195pt][l]{RSI\ \ \ :\hfill 26.07}\\
\makebox[195pt][l]{Fund\ \ :\hfill 0.0027\%}\\
\makebox[195pt][l]{BTC.D\ :\hfill 53.87\%}\\
\makebox[195pt][l]{USDT.D:\hfill 8.14\%}};
\node[rotate=31.8, font=\bfseries\fontsize{66}{70}\selectfont, text=white, text opacity=0.045] at (600pt,532pt) {blockdigest.io};
\node[anchor=base east, font=\bfseries\fontsize{17.6}{20}\selectfont, text=white, text opacity=0.13] at (1240pt,22pt) {blockdigest.io};
\end{tikzpicture}
\end{document}
